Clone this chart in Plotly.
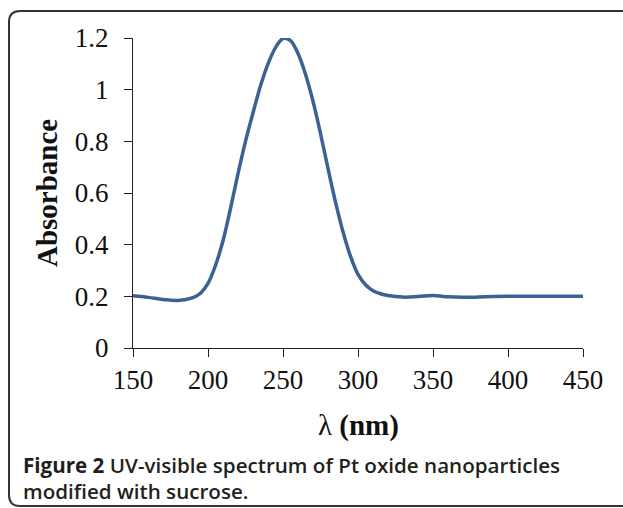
import plotly.graph_objects as go

# ---- data ----
wavelength = [150, 160, 170, 180, 190, 195, 200, 205, 210, 215, 220, 225, 230, 235, 240,
              245, 250, 255, 260, 265, 270, 275, 280, 285, 290, 295, 300, 305, 310,
              315, 320, 330, 340, 350, 360, 370, 380, 390, 400, 420, 450]
absorbance = [0.202, 0.196, 0.188, 0.184, 0.195, 0.212, 0.25, 0.32, 0.415, 0.54, 0.675,
              0.8, 0.91, 1.015, 1.1, 1.163, 1.198, 1.19, 1.14, 1.06, 0.955, 0.83, 0.695,
              0.565, 0.45, 0.355, 0.285, 0.245, 0.222, 0.21, 0.203, 0.197, 0.199, 0.203,
              0.198, 0.196, 0.197, 0.199, 0.2, 0.2, 0.2]
x_ticks = [150, 200, 250, 300, 350, 400, 450]
y_ticks = [0, 0.2, 0.4, 0.6, 0.8, 1.0, 1.2]
y_ticklabels = ["0", "0.2", "0.4", "0.6", "0.8", "1", "1.2"]

W, H = 623, 508
L, R, T, B = 133, 40, 38, 160
PW, PH = W - L - R, H - T - B

def px(xp):
    return (xp - L) / PW

def py(yp):
    return (H - B - yp) / PH

fig = go.Figure()
fig.add_trace(go.Scatter(x=wavelength, y=absorbance, mode="lines",
                         line=dict(color="#3b6195", width=3.5, shape="spline", smoothing=1.0),
                         hoverinfo="skip", showlegend=False))

serif = "Liberation Serif, Times New Roman, serif"
axis_common = dict(showline=True, linecolor="#222", linewidth=1, ticks="outside",
                   ticklen=8, tickcolor="#222", tickwidth=1, showgrid=False,
                   zeroline=False, tickfont=dict(family=serif, size=27, color="#111"))

fig.update_layout(
    width=W, height=H,
    margin=dict(l=L, r=R, t=T, b=B, pad=0),
    paper_bgcolor="white", plot_bgcolor="white",
    xaxis=dict(range=[150, 450], tickvals=x_ticks, **axis_common),
    yaxis=dict(range=[0, 1.2], tickvals=y_ticks, ticktext=y_ticklabels,
               ticklabelstandoff=10, **axis_common),
)

# border (rounded box, right side runs off the canvas)
left, top, bottom, right, r = 9, 11, 506, 660, 11
path = (f"M {px(right)},{py(top)} L {px(left + r)},{py(top)} "
        f"Q {px(left)},{py(top)} {px(left)},{py(top + r)} "
        f"L {px(left)},{py(bottom - r)} "
        f"Q {px(left)},{py(bottom)} {px(left + r)},{py(bottom)} "
        f"L {px(right)},{py(bottom)}")
fig.add_shape(type="path", path=path, xref="paper", yref="paper",
              line=dict(color="#333", width=2))

# axis titles
fig.add_annotation(text="λ <b>(nm)</b>", xref="paper", yref="paper",
                   x=px(358), y=py(425), xanchor="center", yanchor="middle",
                   showarrow=False, font=dict(family=serif, size=29, color="#111"))
fig.add_annotation(text="<b>Absorbance</b>", xref="paper", yref="paper",
                   x=px(47), y=py(193), xanchor="center", yanchor="middle",
                   textangle=-90, showarrow=False,
                   font=dict(family=serif, size=29, color="#111"))

# caption
sans = "Open Sans, Noto Sans, sans-serif"
fig.add_annotation(text="<b>Figure 2</b> UV-visible spectrum of Pt oxide nanoparticles",
                   xref="paper", yref="paper", x=px(21), y=py(465),
                   xanchor="left", yanchor="middle", showarrow=False,
                   font=dict(family=sans, size=20.6, color="#231f20", weight=600))
fig.add_annotation(text="modified with sucrose.",
                   xref="paper", yref="paper", x=px(21), y=py(491),
                   xanchor="left", yanchor="middle", showarrow=False,
                   font=dict(family=sans, size=20.6, color="#231f20", weight=600))

fig.write_html("out.html")
